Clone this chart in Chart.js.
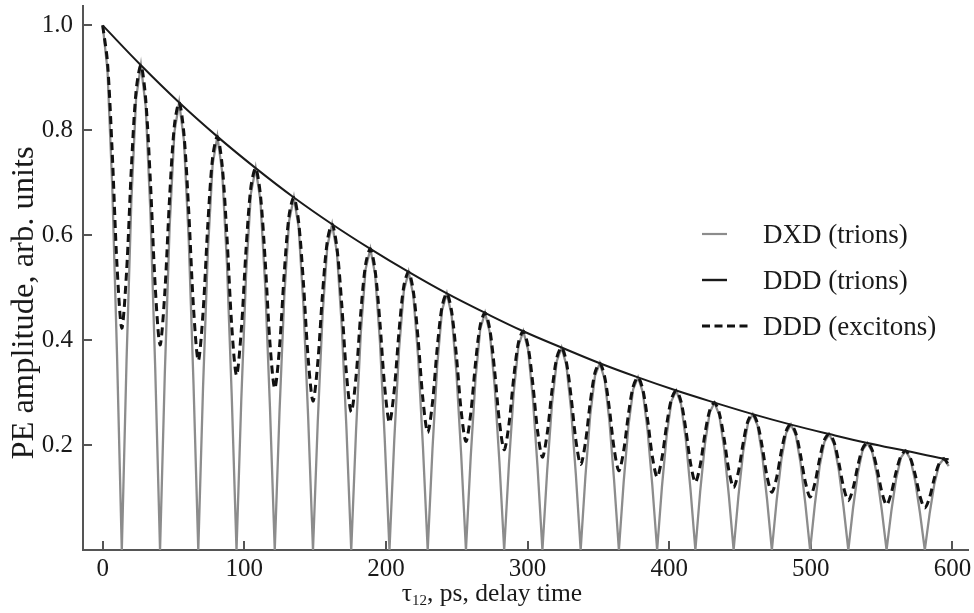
<!DOCTYPE html>
<html>
<head>
<meta charset="utf-8">
<script src="https://cdn.jsdelivr.net/npm/chart.js@4.4.1/dist/chart.umd.min.js"></script>
<style>
  html, body { margin: 0; padding: 0; background: #fff; }
  #wrap { width: 974px; height: 613px; }
</style>
</head>
<body>
<div id="wrap"><canvas id="chart" width="974" height="613"></canvas></div>
<script>
// delay time tau12, ps (shared by the two oscillating curves)
const delays = [
  0, 3.375, 6.75, 10.125, 13.5, 16.875, 20.25, 23.625,
  27, 30.375, 33.75, 37.125, 40.5, 43.875, 47.25, 50.625,
  54, 57.375, 60.75, 64.125, 67.5, 70.875, 74.25, 77.625,
  81, 84.375, 87.75, 91.125, 94.5, 97.875, 101.25, 104.625,
  108, 111.375, 114.75, 118.125, 121.5, 124.875, 128.25, 131.625,
  135, 138.375, 141.75, 145.125, 148.5, 151.875, 155.25, 158.625,
  162, 165.375, 168.75, 172.125, 175.5, 178.875, 182.25, 185.625,
  189, 192.375, 195.75, 199.125, 202.5, 205.875, 209.25, 212.625,
  216, 219.375, 222.75, 226.125, 229.5, 232.875, 236.25, 239.625,
  243, 246.375, 249.75, 253.125, 256.5, 259.875, 263.25, 266.625,
  270, 273.375, 276.75, 280.125, 283.5, 286.875, 290.25, 293.625,
  297, 300.375, 303.75, 307.125, 310.5, 313.875, 317.25, 320.625,
  324, 327.375, 330.75, 334.125, 337.5, 340.875, 344.25, 347.625,
  351, 354.375, 357.75, 361.125, 364.5, 367.875, 371.25, 374.625,
  378, 381.375, 384.75, 388.125, 391.5, 394.875, 398.25, 401.625,
  405, 408.375, 411.75, 415.125, 418.5, 421.875, 425.25, 428.625,
  432, 435.375, 438.75, 442.125, 445.5, 448.875, 452.25, 455.625,
  459, 462.375, 465.75, 469.125, 472.5, 475.875, 479.25, 482.625,
  486, 489.375, 492.75, 496.125, 499.5, 502.875, 506.25, 509.625,
  513, 516.375, 519.75, 523.125, 526.5, 529.875, 533.25, 536.625,
  540, 543.375, 546.75, 550.125, 553.5, 556.875, 560.25, 563.625,
  567, 570.375, 573.75, 577.125, 580.5, 583.875, 587.25, 590.625,
  594, 597.375
];

// DXD (trions) - grey, drops to zero between the peaks
const dxdTrions = [
  1, .915, .693, .372, 0, .364, .666, .862,
  .924, .845, .640, .343, 0, .337, .615, .796,
  .853, .781, .591, .317, 0, .311, .568, .735,
  .788, .721, .546, .293, 0, .287, .525, .679,
  .728, .666, .504, .271, 0, .265, .485, .627,
  .672, .615, .466, .250, 0, .245, .448, .579,
  .621, .568, .430, .231, 0, .226, .414, .535,
  .574, .525, .398, .213, 0, .209, .382, .494,
  .530, .485, .367, .197, 0, .193, .353, .457,
  .489, .448, .339, .182, 0, .178, .326, .422,
  .452, .414, .313, .168, 0, .165, .301, .390,
  .417, .382, .289, .155, 0, .152, .278, .360,
  .386, .353, .267, .143, 0, .141, .257, .332,
  .356, .326, .247, .132, 0, .130, .237, .307,
  .329, .301, .228, .122, 0, .120, .219, .284,
  .304, .278, .211, .113, 0, .111, .202, .262,
  .281, .257, .195, .104, 0, .102, .187, .242,
  .259, .237, .180, .096, 0, .094, .173, .223,
  .239, .219, .166, .089, 0, .087, .160, .206,
  .221, .202, .153, .082, 0, .081, .147, .191,
  .204, .187, .142, .076, 0, .074, .136, .176,
  .189, .173, .131, .070, 0, .069, .126, .163,
  .174, .160
];

// DDD (excitons) - dashed, minima stay well above zero
const dddExcitons = [
  1, .930, .757, .542, .423, .531, .728, .876,
  .924, .859, .699, .501, .391, .491, .672, .809,
  .853, .793, .646, .462, .361, .453, .621, .748,
  .788, .733, .597, .427, .333, .419, .574, .691,
  .728, .677, .551, .394, .308, .387, .530, .638,
  .672, .625, .509, .364, .284, .357, .489, .589,
  .621, .577, .470, .336, .263, .330, .452, .544,
  .574, .533, .434, .311, .243, .305, .417, .503,
  .530, .493, .401, .287, .224, .281, .386, .464,
  .489, .455, .371, .265, .207, .260, .356, .429,
  .452, .420, .342, .245, .191, .240, .329, .396,
  .417, .388, .316, .226, .177, .222, .304, .366,
  .386, .359, .292, .209, .163, .205, .281, .338,
  .356, .331, .270, .193, .151, .189, .259, .312,
  .329, .306, .249, .178, .139, .175, .239, .288,
  .304, .283, .230, .165, .129, .161, .221, .266,
  .281, .261, .213, .152, .119, .149, .204, .246,
  .259, .241, .196, .140, .110, .138, .189, .227,
  .239, .223, .181, .130, .101, .127, .174, .210,
  .221, .206, .167, .120, .094, .118, .161, .194,
  .204, .190, .155, .111, .086, .109, .149, .179,
  .189, .175, .143, .102, .080, .100, .137, .165,
  .174, .162
];

// DDD (trions) - smooth decay through the peaks
const envelopeDelays = [0, 27, 54, 81, 108, 135, 162, 189, 216, 243, 270, 297,
  324, 351, 378, 405, 432, 459, 486, 513, 540, 567, 594, 597.375];
const dddTrions = [1, .924, .853, .788, .728, .672, .621, .574, .530, .489, .452, .417,
  .386, .356, .329, .304, .281, .259, .239, .221, .204, .189, .174, .173];

const xTickValues = [0, 100, 200, 300, 400, 500, 600];
const yTickValues = [0.2, 0.4, 0.6, 0.8, 1.0];
const seriesLabels = ['DXD (trions)', 'DDD (trions)', 'DDD (excitons)'];
const yTitle = 'PE amplitude, arb. units';

const SERIF = '"Liberation Serif", "Times New Roman", serif';
const TEXT = '#1a1a1a';
const AXIS = '#555';

const toPoints = (xs, ys) => xs.map((x, i) => ({ x: x, y: ys[i] }));

// inward tick marks, legend and axis titles
const decor = {
  id: 'decor',
  beforeDatasetsDraw(chart) {
    const { ctx, chartArea, scales } = chart;
    ctx.save();
    ctx.strokeStyle = AXIS;
    ctx.lineWidth = 2;
    ctx.beginPath();
    xTickValues.forEach((v) => {
      const px = Math.round(scales.x.getPixelForValue(v));
      ctx.moveTo(px, chartArea.bottom);
      ctx.lineTo(px, chartArea.bottom - 9);
    });
    yTickValues.forEach((v) => {
      const py = Math.round(scales.y.getPixelForValue(v));
      ctx.moveTo(chartArea.left, py);
      ctx.lineTo(chartArea.left + 9, py);
    });
    ctx.stroke();
    ctx.restore();
  },
  afterDraw(chart) {
    const { ctx } = chart;
    ctx.save();

    // legend
    const rows = [
      { y: 234, x2: 727, color: '#8c8c8c', width: 2.2, dash: [] },
      { y: 280, x2: 727, color: '#1a1a1a', width: 2.4, dash: [] },
      { y: 326, x2: 748, color: '#111', width: 3, dash: [8, 4.5] }
    ];
    ctx.font = '27px ' + SERIF;
    ctx.fillStyle = TEXT;
    ctx.textBaseline = 'alphabetic';
    ctx.textAlign = 'left';
    rows.forEach((r, i) => {
      ctx.beginPath();
      ctx.setLineDash(r.dash);
      ctx.strokeStyle = r.color;
      ctx.lineWidth = r.width;
      ctx.moveTo(702, r.y);
      ctx.lineTo(r.x2, r.y);
      ctx.stroke();
      ctx.fillText(seriesLabels[i], 763, r.y + 9);
    });
    ctx.setLineDash([]);

    // x title with subscript
    const big = '25.5px ' + SERIF;
    const small = '15px ' + SERIF;
    const parts = [['\u03c4', big, 0], ['12', small, 4], [', ps, delay time', big, 0]];
    let total = 0;
    parts.forEach((p) => { ctx.font = p[1]; total += ctx.measureText(p[0]).width; });
    let cx = 492 - total / 2;
    parts.forEach((p) => {
      ctx.font = p[1];
      ctx.fillText(p[0], cx, 601 + p[2]);
      cx += ctx.measureText(p[0]).width;
    });

    // y title
    ctx.translate(33, 303);
    ctx.rotate(-Math.PI / 2);
    ctx.font = '32.5px ' + SERIF;
    ctx.textAlign = 'center';
    ctx.fillText(yTitle, 0, 0);
    ctx.restore();
  }
};

new Chart(document.getElementById('chart'), {
  type: 'line',
  data: {
    datasets: [
      {
        label: seriesLabels[0],
        data: toPoints(delays, dxdTrions),
        borderColor: '#8c8c8c',
        borderWidth: 2.3,
        tension: 0,
        pointRadius: 0,
        order: 3
      },
      {
        label: seriesLabels[1],
        data: toPoints(envelopeDelays, dddTrions),
        borderColor: '#1a1a1a',
        borderWidth: 2,
        tension: 0.4,
        pointRadius: 0,
        order: 1
      },
      {
        label: seriesLabels[2],
        data: toPoints(delays, dddExcitons),
        borderColor: '#111',
        borderWidth: 3,
        borderDash: [8, 5],
        tension: 0.3,
        pointRadius: 0,
        order: 2
      }
    ]
  },
  options: {
    responsive: false,
    animation: false,
    layout: { padding: { left: 0, right: 6, top: 6, bottom: 0 } },
    plugins: { legend: { display: false }, tooltip: { enabled: false } },
    scales: {
      x: {
        type: 'linear',
        min: -13.9,
        max: 611,
        afterBuildTicks: (scale) => { scale.ticks = xTickValues.map((v) => ({ value: v })); },
        afterFit: (scale) => {
          scale.height = 63;
          scale.paddingLeft = 0;
          scale.paddingRight = 0;
        },
        grid: { display: false, drawTicks: false },
        border: { display: true, color: AXIS, width: 2 },
        ticks: {
          autoSkip: false,
          maxRotation: 0,
          padding: 4,
          color: TEXT,
          font: { family: SERIF, size: 25 }
        }
      },
      y: {
        type: 'linear',
        min: 0,
        max: 1.037,
        afterBuildTicks: (scale) => { scale.ticks = yTickValues.map((v) => ({ value: v })); },
        afterFit: (scale) => {
          scale.width = 83;
          scale.paddingTop = 0;
          scale.paddingBottom = 0;
        },
        grid: { display: false, drawTicks: false },
        border: { display: true, color: AXIS, width: 2 },
        ticks: {
          padding: 10,
          color: TEXT,
          font: { family: SERIF, size: 25 },
          callback: (v) => v.toFixed(1)
        }
      }
    }
  },
  plugins: [decor]
});
</script>
</body>
</html>
